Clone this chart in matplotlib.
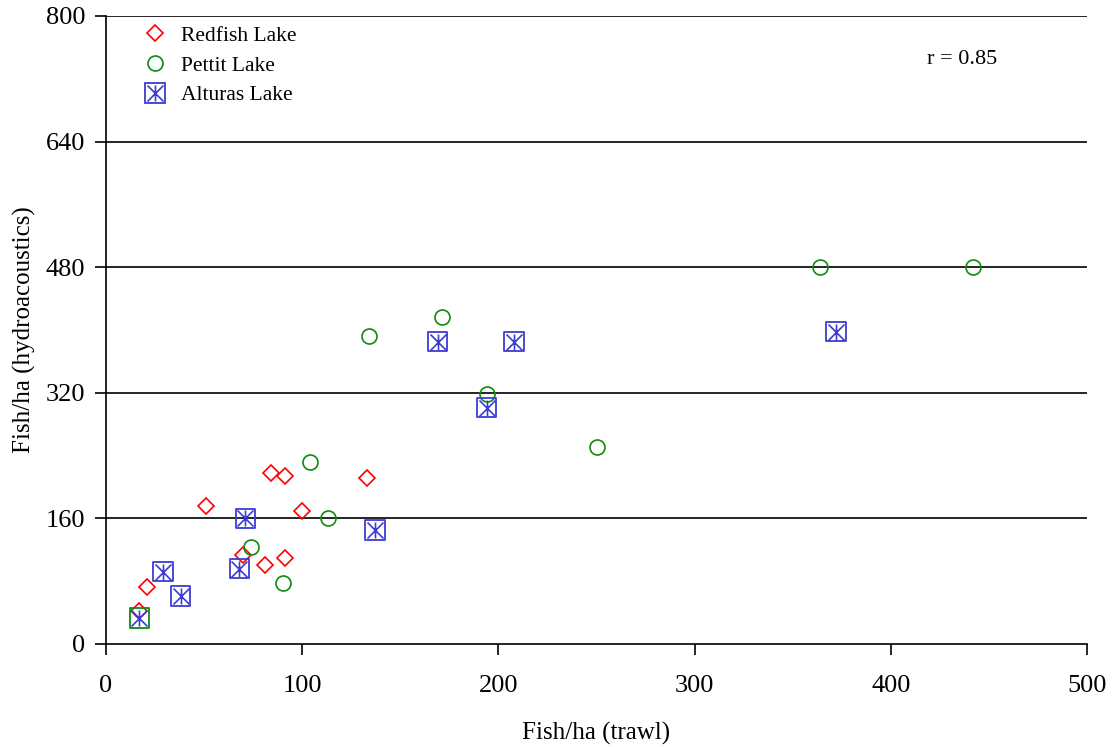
import matplotlib
matplotlib.use("Agg")
import matplotlib.pyplot as plt
from matplotlib.lines import Line2D
from matplotlib.path import Path

plt.rcParams['font.family'] = ['Liberation Serif', 'DejaVu Serif']

# Data (Fish/ha trawl, Fish/ha hydroacoustics)
redfish_x = [84, 91, 133, 51, 100, 70, 81, 91, 21, 17]
redfish_y = [218, 214, 212, 176, 169, 113, 101, 110, 72, 42]

pettit_x = [104, 113, 74, 90, 134, 171, 194, 250, 364, 442]
pettit_y = [232, 160, 124, 78, 392, 417, 319, 251, 480, 480]

alturas_x = [17, 29, 38, 68, 71, 137, 169, 208, 194, 372]
alturas_y = [33, 92, 61, 96, 160, 145, 385, 385, 301, 398]
# edge colour of the square around each Alturas point (first one appears green)
alturas_edge = ['#108a10', '#3c3cd2', '#3c3cd2', '#3c3cd2', '#3c3cd2',
                '#3c3cd2', '#3c3cd2', '#3c3cd2', '#3c3cd2', '#3c3cd2']

x_ticks = [0, 100, 200, 300, 400, 500]
y_ticks = [0, 160, 320, 480, 640, 800]

RED = '#ff0000'
GREEN = '#108a10'
BLUE = '#3c3cd2'

star = Path([(0, -1), (0, 1), (-1, -1), (1, 1), (-1, 1), (1, -1)],
            [Path.MOVETO, Path.LINETO, Path.MOVETO, Path.LINETO,
             Path.MOVETO, Path.LINETO])

fig = plt.figure(figsize=(11.15, 7.47), dpi=100)
ax = fig.add_axes([0.0951, 0.1379, 0.8798, 0.8407])

ax.set_xlim(0, 500)
ax.set_ylim(0, 800)

for yv in y_ticks[1:]:
    ax.axhline(yv, color='black', lw=1.2, zorder=1)

D_MS, O_MS, S_MS, ST_MS = 8.4, 10.8, 14, 11.5

ax.plot(redfish_x, redfish_y, linestyle='none', marker='D', markersize=D_MS,
        markerfacecolor='none', markeredgecolor=RED, markeredgewidth=1.2, zorder=3)
ax.plot(pettit_x, pettit_y, linestyle='none', marker='o', markersize=O_MS,
        markerfacecolor='none', markeredgecolor=GREEN, markeredgewidth=1.2, zorder=4)
ax.scatter(alturas_x, alturas_y, marker='s', s=S_MS**2, facecolors='none',
           edgecolors=alturas_edge, linewidths=1.3, zorder=5)
ax.plot(alturas_x, alturas_y, linestyle='none', marker=star, markersize=ST_MS,
        color=BLUE, markeredgewidth=1.2, zorder=6)

h1 = Line2D([], [], linestyle='none', marker='D', markersize=D_MS,
            markerfacecolor='none', markeredgecolor=RED, markeredgewidth=1.2)
h2 = Line2D([], [], linestyle='none', marker='o', markersize=O_MS,
            markerfacecolor='none', markeredgecolor=GREEN, markeredgewidth=1.2)
h3a = Line2D([], [], linestyle='none', marker='s', markersize=S_MS,
             markerfacecolor='none', markeredgecolor=BLUE, markeredgewidth=1.3)
h3b = Line2D([], [], linestyle='none', marker=star, markersize=ST_MS,
             color=BLUE, markeredgewidth=1.2)
ax.legend([h1, h2, (h3a, h3b)], ['Redfish Lake', 'Pettit Lake', 'Alturas Lake'],
          loc='upper left', bbox_to_anchor=(0.015, 1.005), frameon=False,
          fontsize=15.5, handletextpad=0.22, labelspacing=0.45, borderaxespad=0.2)

ax.text(0.873, 0.93, 'r = 0.85', transform=ax.transAxes, fontsize=16,
        ha='center', va='center')

ax.set_xticks(x_ticks)
ax.set_yticks(y_ticks)
ax.tick_params(axis='both', direction='out', length=8, width=1.2, labelsize=19,
               colors='black')
ax.tick_params(axis='x', pad=14)
ax.tick_params(axis='y', pad=7)
for side in ['top', 'right']:
    ax.spines[side].set_visible(False)
for side in ['left', 'bottom']:
    ax.spines[side].set_linewidth(1.2)

ax.set_xlabel('Fish/ha (trawl)', fontsize=18, labelpad=18)
ax.set_ylabel('Fish/ha (hydroacoustics)', fontsize=18, labelpad=7)

fig.savefig('out.png', dpi=100)
